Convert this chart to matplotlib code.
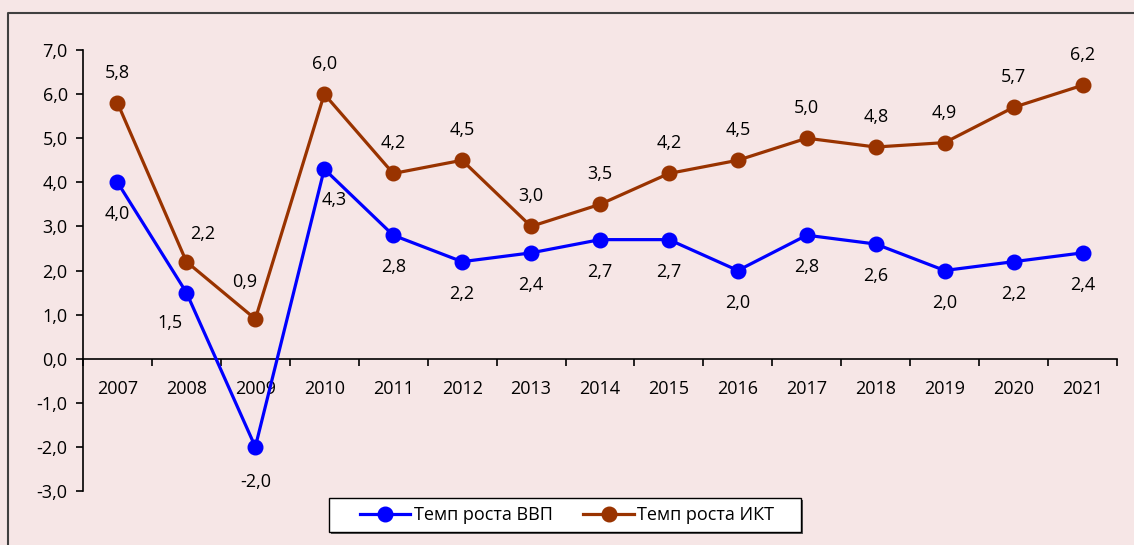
import matplotlib.pyplot as plt
from matplotlib.lines import Line2D
from matplotlib.patches import Rectangle
from matplotlib.ticker import FuncFormatter, FixedLocator

plt.rcParams['font.family'] = ['Open Sans', 'DejaVu Sans']

# data
years = ['2007', '2008', '2009', '2010', '2011', '2012', '2013', '2014',
         '2015', '2016', '2017', '2018', '2019', '2020', '2021']
gdp = [4.0, 1.5, -2.0, 4.3, 2.8, 2.2, 2.4, 2.7, 2.7, 2.0, 2.8, 2.6, 2.0, 2.2, 2.4]
ict = [5.8, 2.2, 0.9, 6.0, 4.2, 4.5, 3.0, 3.5, 4.2, 4.5, 5.0, 4.8, 4.9, 5.7, 6.2]
gdp_name = 'Темп роста ВВП'
ict_name = 'Темп роста ИКТ'

bg = '#F6E6E6'
blue = '#0000FF'
brown = '#993300'
W, H = 1134, 545
fs = 13

fig = plt.figure(figsize=(W / 100, H / 100), dpi=100, facecolor=bg)
ax = fig.add_axes([83 / W, (H - 491) / H, (1117 - 83) / W, (491 - 50) / H])
ax.set_facecolor(bg)

x = list(range(len(years)))
ax.plot(x, gdp, color=blue, lw=2.3, marker='o', ms=10.5, label=gdp_name, zorder=3)
ax.plot(x, ict, color=brown, lw=2.3, marker='o', ms=10.5, label=ict_name, zorder=3)

ax.set_xlim(-0.5, len(years) - 0.5)
ax.set_ylim(-3, 7)

# axes look
ax.spines['top'].set_visible(False)
ax.spines['right'].set_visible(False)
ax.spines['bottom'].set_position(('data', 0))
ax.spines['left'].set_linewidth(1.2)
ax.spines['bottom'].set_linewidth(1.2)

ax.set_yticks(range(-3, 8))
ax.yaxis.set_major_formatter(FuncFormatter(lambda v, p: f'{v:.1f}'.replace('.', ',')))
ax.tick_params(axis='y', direction='out', length=5, width=1.2, pad=6, labelsize=fs)

ax.set_xticks(x)
ax.set_xticklabels(years)
ax.tick_params(axis='x', which='major', length=0, pad=15, labelsize=fs)
ax.xaxis.set_minor_locator(FixedLocator([i - 0.5 for i in range(len(years) + 1)]))
ax.tick_params(axis='x', which='minor', direction='out', length=5, width=1.2)

# data labels (offsets in pixels)
gdp_off = {1: (-16, -30), 2: (0, -35), 3: (10, -31)}
ict_off = {1: (16, 28), 2: (-11, 37)}
for i in x:
    dx, dy = gdp_off.get(i, (0, -32))
    ax.annotate(f'{gdp[i]:.1f}'.replace('.', ','), (i, gdp[i]), xytext=(dx, dy),
                textcoords='offset pixels', ha='center', va='center', fontsize=fs)
    dx, dy = ict_off.get(i, (0, 30))
    ax.annotate(f'{ict[i]:.1f}'.replace('.', ','), (i, ict[i]), xytext=(dx, dy),
                textcoords='offset pixels', ha='center', va='center', fontsize=fs)

# legend box
fig.add_artist(Rectangle((331 / W, (H - 534) / H), 472 / W, 34 / H, transform=fig.transFigure,
                         facecolor='#555555', edgecolor='none', zorder=4))
fig.add_artist(Rectangle((329 / W, (H - 532) / H), 472 / W, 34 / H, transform=fig.transFigure,
                         facecolor='white', edgecolor='black', lw=1, zorder=5))
leg = fig.legend(loc='center', bbox_to_anchor=(567 / W, (H - 515) / H), ncol=2, frameon=False,
                 fontsize=fs, handlelength=2.8, handletextpad=0.2, columnspacing=1.7)
leg.set_zorder(6)

# outer border
fig.add_artist(Line2D([8 / W, 8 / W, 1.0], [0.0, (H - 13) / H, (H - 13) / H],
                      transform=fig.transFigure, color='#404040', lw=1.5))

fig.savefig('out.png', dpi=100, facecolor=bg)
